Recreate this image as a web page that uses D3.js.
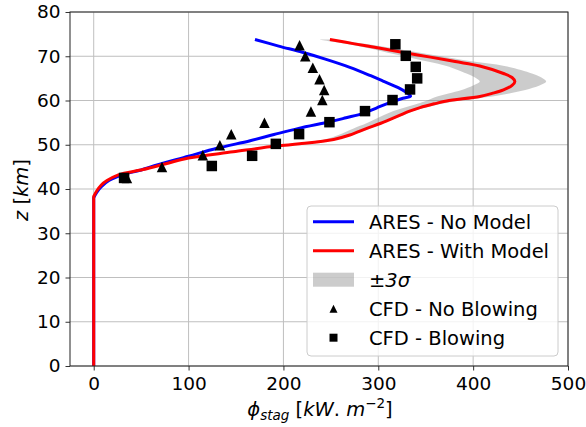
<!DOCTYPE html>
<html>
<head>
<meta charset="utf-8">
<script src="https://cdn.jsdelivr.net/npm/d3@7"></script>
<style>
    body { margin: 0; background: #fff; }
    svg { display: block; font-family: "DejaVu Sans", sans-serif; }
</style>
</head>
<body>
<div id="chart"></div>
<script>
// ARES - With Model (red), ordered from top of curve down to the ground
const redZ = [73.8, 72.8, 71.8, 70.8, 69.8, 68.8, 67.8, 66.1, 65.2, 64.3, 63.4, 62.4, 61.6, 60.9,
    59.9, 59.3, 58.4, 57.6, 56.7, 55.7, 54.8, 53.7, 52.2, 51.2, 50.2, 49.7, 48.4, 47.0, 45.7,
    44.4, 43.2, 41.9, 40.9, 39.5, 38.3, 0];
const redX = [249, 275, 302, 328, 355, 381, 407, 432, 441, 444, 441, 432, 420, 407,
    372, 360, 344, 333, 323, 312, 302, 288, 270, 253, 217, 192, 147, 100, 76,
    52, 26, 14, 8, 3, 0, 0];
// +/- 3 sigma band around the red curve (same altitudes)
const bandLo = [237, 266, 290, 310, 332, 352, 372, 393, 402, 407, 400, 388, 374, 362,
    350, 342, 328, 316, 306, 296, 287, 274, 258, 243, 209, 186, 143, 98, 75,
    51, 26, 14, 8, 3, 0, 0];
const bandHi = [252, 286, 316, 344, 372, 400, 433, 462, 472, 477, 470, 455, 438, 420,
    383, 368, 350, 337, 327, 315, 305, 291, 273, 256, 220, 194, 149, 101, 77,
    53, 26, 14, 8, 3, 0, 0];

// ARES - No Model (blue)
const blueZ = [73.8, 72.3, 70.9, 69.3, 67.5, 65.6, 64.4, 62.9, 61.9, 61.0,
    60.5, 59.5, 58.3, 57.1, 56.1, 55.2, 53.7, 52.3, 50.9, 49.2, 47.4, 45.0, 44.3,
    43.2, 41.9, 40.5, 39.2, 38.0, 0];
const blueX = [170, 195, 220, 245, 270, 292, 305, 321, 329, 334,
    326, 312, 298, 284, 266, 249, 216, 190, 165, 130, 100, 60, 50,
    30, 16, 8, 3, 0, 0];

// CFD - No Blowing (triangles)
const triX = [35, 72, 115, 133, 145, 180, 229, 241, 243, 238, 231, 223, 217];
const triZ = [42.5, 45.0, 47.6, 49.9, 52.4, 55.0, 57.5, 60.1, 62.4, 64.8, 67.4, 70.0, 72.5];

// CFD - Blowing (squares)
const sqX = [32, 124.5, 167, 192, 216.5, 248.5, 286, 315, 333.5, 341, 339.5, 329, 318];
const sqZ = [42.5, 45.2, 47.5, 50.2, 52.4, 55.1, 57.6, 60.1, 62.5, 65.0, 67.6, 70.1, 72.7];

const xTicks = [0, 100, 200, 300, 400, 500];
const yTicks = [0, 10, 20, 30, 40, 50, 60, 70, 80];

const legendItems = [
    { label: "ARES - No Model", kind: "line", color: "#0000ff" },
    { label: "ARES - With Model", kind: "line", color: "#ff0000" },
    { label: "sigma", kind: "band" },
    { label: "CFD - No Blowing", kind: "tri" },
    { label: "CFD - Blowing", kind: "sq" }
];

const W = 586, H = 427;
const margin = { top: 12, right: 18, bottom: 61, left: 70 };
const width = W - margin.left - margin.right;
const height = H - margin.top - margin.bottom;

const svg = d3.select("#chart").append("svg")
    .attr("width", W)
    .attr("height", H);

const g = svg.append("g")
    .attr("transform", `translate(${margin.left},${margin.top})`);

const x = d3.scaleLinear().domain([-25, 500]).range([0, width]);
const y = d3.scaleLinear().domain([0, 80]).range([height, 0]);

// grid
g.append("g").selectAll("line")
    .data(xTicks).enter().append("line")
    .attr("x1", d => x(d)).attr("x2", d => x(d))
    .attr("y1", 0).attr("y2", height)
    .attr("stroke", "#bfbfbf").attr("stroke-width", 1);
g.append("g").selectAll("line")
    .data(yTicks).enter().append("line")
    .attr("x1", 0).attr("x2", width)
    .attr("y1", d => y(d)).attr("y2", d => y(d))
    .attr("stroke", "#bfbfbf").attr("stroke-width", 1);

const redPts = redZ.map((z, i) => ({ z: z, x: redX[i], lo: bandLo[i], hi: bandHi[i] }));
const bluePts = blueZ.map((z, i) => ({ z: z, x: blueX[i] }));

// curved part ends where the profile reaches the wall (last two points = straight x=0 run)
const curved = pts => pts.slice(0, pts.length - 1);
const straight = pts => pts.slice(pts.length - 2);

// band
const band = d3.area()
    .y(d => y(d.z))
    .x0(d => x(d.lo))
    .x1(d => x(d.hi))
    .curve(d3.curveCatmullRom.alpha(0.5));
g.append("path")
    .datum(curved(redPts))
    .attr("d", band)
    .attr("fill", "#808080")
    .attr("fill-opacity", 0.4);

const smooth = d3.line()
    .x(d => x(d.x))
    .y(d => y(d.z))
    .curve(d3.curveCatmullRom.alpha(0.5));
const lin = d3.line()
    .x(d => x(d.x))
    .y(d => y(d.z));

function drawProfile(pts, color) {
    const p = smooth(curved(pts)) + lin(straight(pts)).replace(/^M[^L]*/, "");
    g.append("path")
        .attr("d", p)
        .attr("fill", "none")
        .attr("stroke", color)
        .attr("stroke-width", 3)
        .attr("stroke-linejoin", "round");
}
drawProfile(bluePts, "#0000ff");
drawProfile(redPts, "#ff0000");

// marker shapes
const triType = {
    draw(ctx, s) {
        const h = s / 2;
        ctx.moveTo(0, -h);
        ctx.lineTo(h, h);
        ctx.lineTo(-h, h);
        ctx.closePath();
    }
};
const sqType = {
    draw(ctx, s) {
        const h = s / 2;
        ctx.rect(-h, -h, s, s);
    }
};

g.selectAll(".tri")
    .data(triX.map((v, i) => ({ x: v, z: triZ[i] })))
    .enter().append("path")
    .attr("transform", d => `translate(${x(d.x)},${y(d.z)})`)
    .attr("d", d3.symbol(triType, 10.5))
    .attr("fill", "#000");

g.selectAll(".sq")
    .data(sqX.map((v, i) => ({ x: v, z: sqZ[i] })))
    .enter().append("path")
    .attr("transform", d => `translate(${x(d.x)},${y(d.z)})`)
    .attr("d", d3.symbol(sqType, 10.5))
    .attr("fill", "#000");

// axes
const xAxis = g.append("g")
    .attr("transform", `translate(0,${height})`)
    .call(d3.axisBottom(x).tickValues(xTicks).tickSize(4.5).tickPadding(6));
const yAxis = g.append("g")
    .call(d3.axisLeft(y).tickValues(yTicks).tickSize(4.5).tickPadding(5));

[xAxis, yAxis].forEach(a => {
    a.select(".domain").remove();
    a.selectAll("text").style("font-size", "18.5px").attr("fill", "#000")
        .style("font-family", "'DejaVu Sans', sans-serif");
    a.selectAll("line").attr("stroke", "#333");
});

// frame
g.append("rect")
    .attr("width", width).attr("height", height)
    .attr("fill", "none").attr("stroke", "#222").attr("stroke-width", 1);

// axis labels
const xl = svg.append("text")
    .attr("x", 320).attr("y", 416)
    .attr("text-anchor", "middle")
    .style("font-size", "19.5px");
xl.append("tspan").style("font-style", "italic").text("ϕ");
xl.append("tspan").style("font-style", "italic").style("font-size", "13.5px").attr("dy", 4).text("stag");
xl.append("tspan").attr("dy", -4).text(" [");
xl.append("tspan").style("font-style", "italic").text("kW");
xl.append("tspan").text(". ");
xl.append("tspan").style("font-style", "italic").text("m");
xl.append("tspan").style("font-size", "13.5px").attr("dy", -8).text("−2");
xl.append("tspan").attr("dy", 8).text("]");

const yl = svg.append("text")
    .attr("transform", "translate(28,190) rotate(-90)")
    .attr("text-anchor", "middle")
    .style("font-size", "19.5px");
yl.append("tspan").style("font-style", "italic").text("z");
yl.append("tspan").text(" [");
yl.append("tspan").style("font-style", "italic").text("km");
yl.append("tspan").text("]");

// legend
const lg = svg.append("g").attr("transform", "translate(307,206)");
lg.append("rect")
    .attr("width", 251).attr("height", 150)
    .attr("rx", 4)
    .attr("fill", "#fff").attr("fill-opacity", 0.8)
    .attr("stroke", "#cccccc").attr("stroke-width", 1);

const rows = lg.selectAll(".row")
    .data(legendItems).enter().append("g")
    .attr("transform", (d, i) => `translate(0,${15.7 + i * 29})`);

rows.filter(d => d.kind === "line").append("line")
    .attr("x1", 6).attr("x2", 47)
    .attr("stroke", d => d.color).attr("stroke-width", 3);
rows.filter(d => d.kind === "band").append("rect")
    .attr("x", 6).attr("y", -7).attr("width", 41).attr("height", 14)
    .attr("fill", "#808080").attr("fill-opacity", 0.4);
rows.filter(d => d.kind === "tri").append("path")
    .attr("transform", "translate(26.5,0)")
    .attr("d", d3.symbol(triType, 8)).attr("fill", "#000");
rows.filter(d => d.kind === "sq").append("path")
    .attr("transform", "translate(26.5,0)")
    .attr("d", d3.symbol(sqType, 8)).attr("fill", "#000");

rows.each(function (d) {
    const t = d3.select(this).append("text")
        .attr("x", 62).attr("y", 7)
        .style("font-size", "19.5px");
    if (d.kind === "band") {
        t.append("tspan").text("±");
        t.append("tspan").style("font-style", "italic").text("3σ");
    } else {
        t.text(d.label);
    }
});
</script>
</body>
</html>
